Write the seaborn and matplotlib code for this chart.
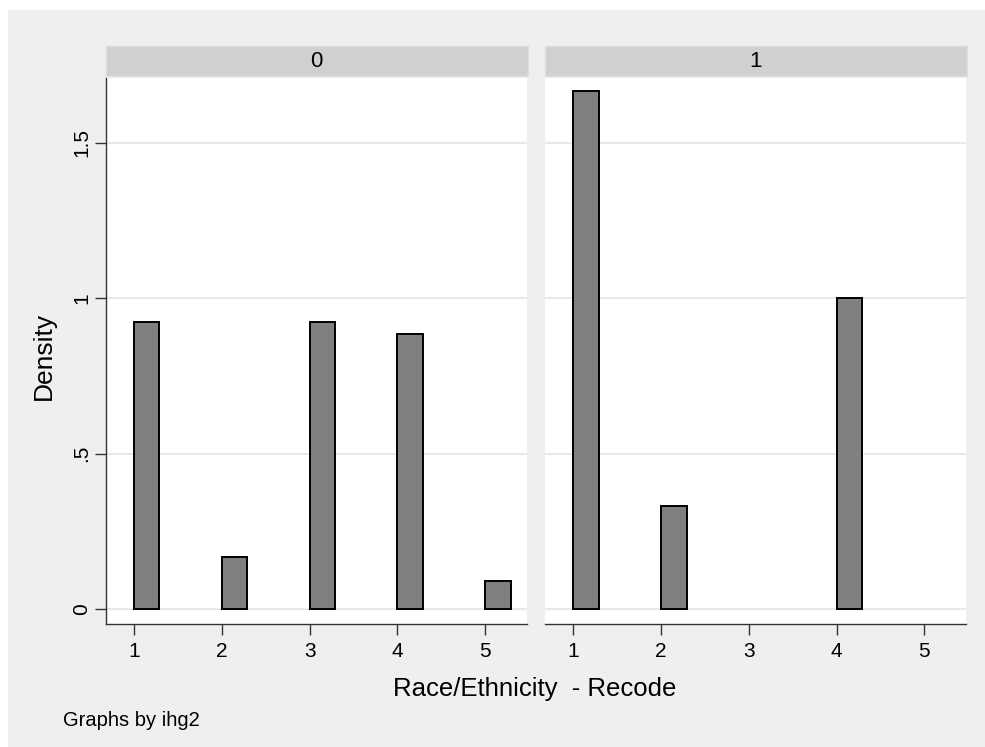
import numpy as np
import pandas as pd
import matplotlib
matplotlib.use("Agg")
import matplotlib.pyplot as plt
from matplotlib.patches import Rectangle
import seaborn as sns

# ---- data ----
race_codes = [1, 2, 3, 4, 5]
panel_names = ["0", "1"]
density_0 = [0.923, 0.166, 0.923, 0.885, 0.091]
density_1 = [1.667, 0.333, 0.0, 1.0, 0.0]
y_ticks = [0, 0.5, 1, 1.5]
y_tick_labels = ["0", ".5", "1", "1.5"]
x_label = "Race/Ethnicity  - Recode"
y_label = "Density"
note = "Graphs by ihg2"

df = pd.DataFrame({
    "ihg2": [panel_names[0]] * 5 + [panel_names[1]] * 5,
    "race": race_codes * 2,
    "density": density_0 + density_1,
})

sns.set_theme(style="white")
plt.rcParams["font.family"] = ["Liberation Sans", "DejaVu Sans"]
plt.rcParams["text.color"] = "black"
plt.rcParams["xtick.color"] = "black"
plt.rcParams["ytick.color"] = "black"

W, H = 985, 747
BG = "#EFEFEF"

g = sns.FacetGrid(df, col="ihg2", col_order=panel_names, sharey=True,
                  height=7.47, aspect=0.66, despine=False)
fig = g.figure
fig.set_size_inches(W / 100, H / 100)
fig.set_dpi(100)
fig.patch.set_facecolor(BG)
# white margins at top and left
fig.patches.append(Rectangle((0, 1 - 10 / H), 1, 10 / H, transform=fig.transFigure,
                             facecolor="white", edgecolor="none", zorder=-10))
fig.patches.append(Rectangle((0, 0), 8 / W, 1, transform=fig.transFigure,
                             facecolor="white", edgecolor="none", zorder=-10))


def draw_bars(data, **kws):
    ax = plt.gca()
    d = data[data["density"] > 0]
    ax.bar(d["race"], d["density"], width=0.29, align="edge",
           color="#808080", edgecolor="black", linewidth=1.4, zorder=3)


g.map_dataframe(draw_bars)
g.set_titles("")

left_px = [105.5, 545]
right_px = [527, 966]
top_px, bot_px = 78, 623.5
for i, ax in enumerate(g.axes.flat):
    ax.set_position([left_px[i] / W, 1 - bot_px / H,
                     (right_px[i] - left_px[i]) / W, (bot_px - top_px) / H])
    ax.set_facecolor("white")
    ax.set_xlim(0.675, 5.477)
    ax.set_ylim(-0.0467, 1.7092)
    ax.set_xticks(race_codes)
    ax.set_xticklabels([str(c) for c in race_codes], fontsize=15)
    ax.set_yticks(y_ticks)
    ax.grid(axis="y", color="#E6E6E6", linewidth=1.3, zorder=0)
    ax.grid(axis="x", visible=False)
    for s in ["top", "right"]:
        ax.spines[s].set_visible(False)
    ax.spines["bottom"].set_color("#333333")
    ax.spines["bottom"].set_linewidth(1.0)
    ax.tick_params(axis="x", length=8, width=1, color="#333333",
                   pad=5, bottom=True, labelsize=15, labelcolor="black")
    ax.set_xlabel("")
    ax.set_ylabel("")
    if i == 0:
        ax.spines["left"].set_color("#333333")
        ax.spines["left"].set_linewidth(1.0)
        ax.set_yticklabels(y_tick_labels, rotation=90, va="center", fontsize=15)
        ax.tick_params(axis="y", length=8, width=1, color="#333333",
                       pad=2, left=True, labelsize=15, labelcolor="black")
    else:
        ax.spines["left"].set_visible(False)
        ax.tick_params(axis="y", left=False, labelleft=False)
    # strip header
    ah = bot_px - top_px
    ax.add_patch(Rectangle((0, 1 + 2 / ah), 1 + 1 / (right_px[i] - left_px[i]),
                           30 / ah, transform=ax.transAxes, clip_on=False,
                           facecolor="#D0D0D0", edgecolor="#D8DEEA",
                           linewidth=1.0, zorder=5))
    ax.text(0.5, 1 + 17 / ah, panel_names[i], transform=ax.transAxes,
            ha="center", va="center", fontsize=16, color="black", zorder=6)

fig.text(535 / W, 1 - 689 / H, x_label, ha="center", va="center",
         fontsize=18.5, color="black")
fig.text(44 / W, 1 - 356 / H, y_label, ha="center", va="center",
         rotation=90, fontsize=19, color="black")
fig.text(63 / W, 1 - 721 / H, note, ha="left", va="center",
         fontsize=14.5, color="black")

fig.savefig("out.png", dpi=100, facecolor=fig.get_facecolor())
